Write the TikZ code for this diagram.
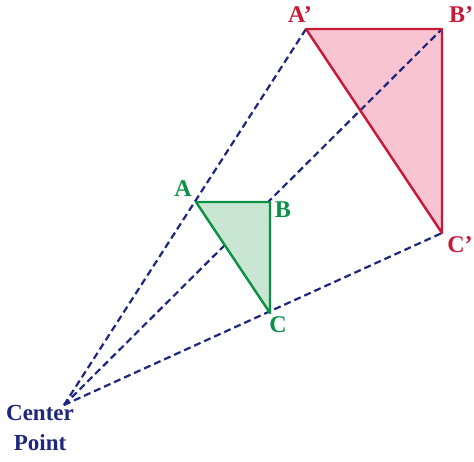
\documentclass[tikz,border=0pt]{standalone}
\usepackage{fontspec}
\setmainfont{Liberation Serif}
\usepackage{tikz}
\usetikzlibrary{positioning}

\definecolor{navy}{RGB}{30,38,125}
\definecolor{grn}{RGB}{10,145,70}
\definecolor{grnfill}{RGB}{200,230,210}
\definecolor{rd}{RGB}{200,25,55}
\definecolor{rdfill}{RGB}{248,196,210}

\tikzset{
  dashline/.style={navy, line width=2.2pt, dash pattern=on 7pt off 4pt},
  lbl/.style={font=\fontsize{24}{26}\selectfont\bfseries, inner sep=0pt}
}

\begin{document}
\begin{tikzpicture}[x=1pt,y=-1pt]
\useasboundingbox (0,0) rectangle (474,461);

\coordinate (cp) at (64,405) ;
\coordinate (a) at (196,202) ;
\coordinate (b) at (270,202) ;
\coordinate (c) at (270,313) ;
\coordinate (a2) at (306,29) ;
\coordinate (b2) at (442,29) ;
\coordinate (c2) at (442,233) ;

\fill[rdfill] (a2) -- (b2) -- (c2) -- cycle ;

\draw[dashline] (cp) -- (a2) ;
\draw[dashline] (cp) -- (b2) ;
\draw[dashline] (cp) -- (c2) ;

\draw[rd, line width=2.4pt, line join=round] (a2) -- (b2) -- (c2) -- cycle ;
\filldraw[grn, fill=grnfill, line width=2.4pt, line join=round] (a) -- (b) -- (c) -- cycle ;

\node[lbl, grn] (alab) at (183,189) {A} ;
\node[lbl, grn] (blab) at (283,210) {B} ;
\node[lbl, grn] (clab) at (278,325) {C} ;
\node[lbl, rd] (a2lab) at (300,15) {A’} ;
\node[lbl, rd] (b2lab) at (461,15) {B’} ;
\node[lbl, rd] (c2lab) at (460,245) {C’} ;
\node[lbl, navy, align=center, font=\fontsize{23}{30}\selectfont\bfseries] (cptext) at (40,428) {Center\\Point} ;
\end{tikzpicture}
\end{document}
